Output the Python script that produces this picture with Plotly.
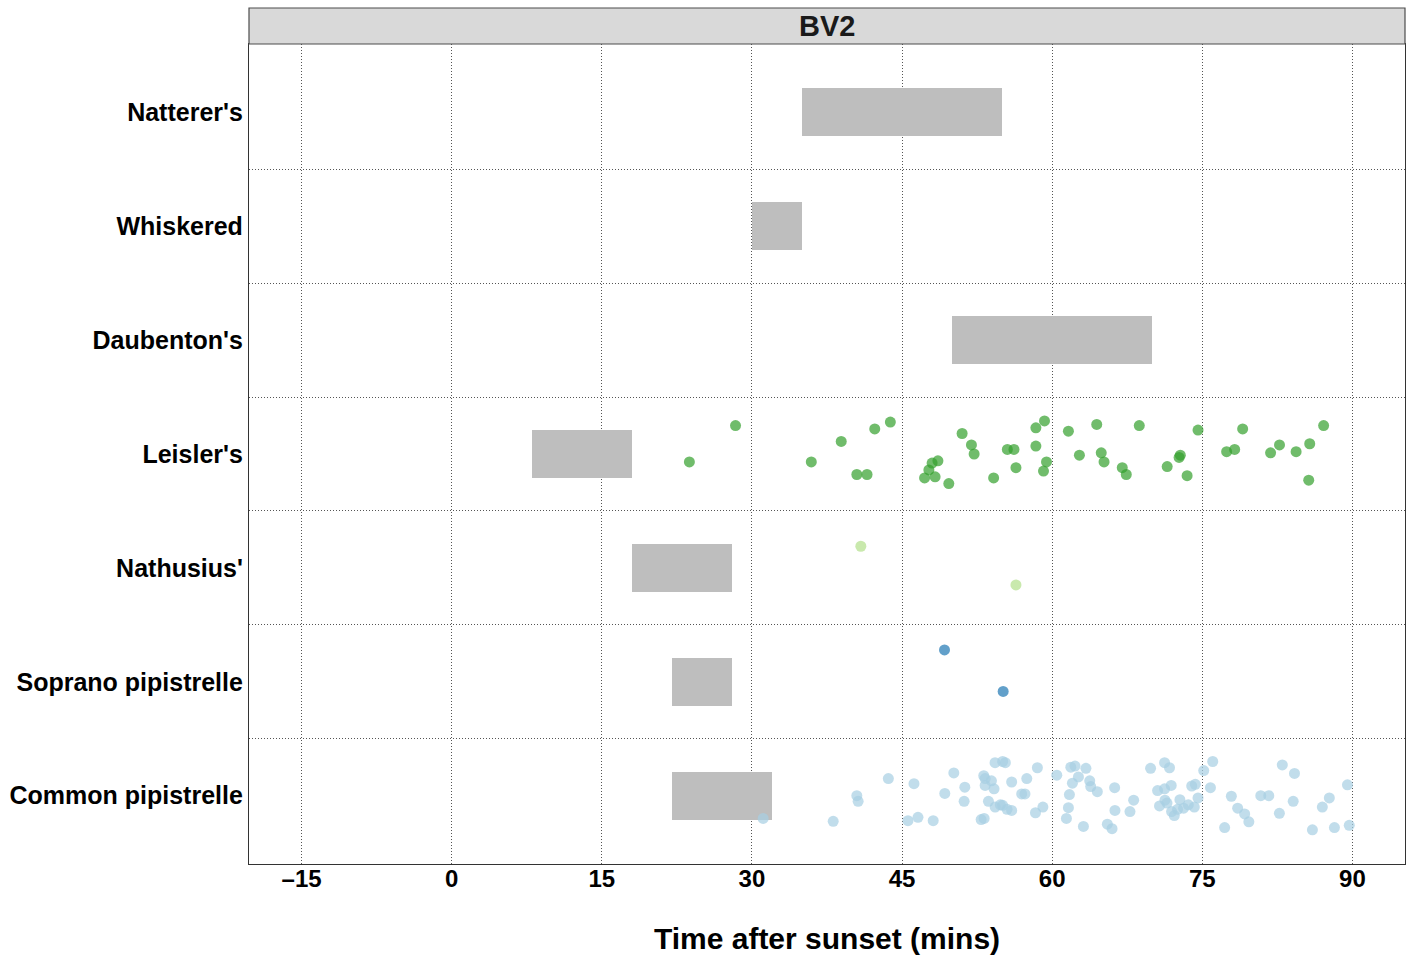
import plotly.graph_objects as go

# Categories (bottom to top)
species = ["Common pipistrelle", "Soprano pipistrelle", "Nathusius'", "Leisler's",
           "Daubenton's", "Whiskered", "Natterer's"]
# Emergence windows (mins after sunset)
win_start = [22, 22, 18, 8, 50, 30, 35]
win_end = [32, 28, 28, 18, 70, 35, 55]

x_ticks = [-15, 0, 15, 30, 45, 60, 75, 90]

# Observed passes (time, vertical jitter)
leis_t = [23.75, 28.36, 35.93, 38.92, 42.27, 43.83, 40.48, 41.5, 51.0, 51.93, 52.2, 48.58,
          48.0, 47.68, 47.25, 48.3, 49.67, 54.15, 55.52, 56.18, 56.38, 58.37, 58.37,
          59.23, 59.43, 59.13, 61.62, 64.45, 68.7, 62.72, 64.9, 65.18, 67.0, 67.4, 71.49,
          72.8, 72.68, 73.48, 74.57, 77.43, 78.23, 79.03, 81.82, 82.71, 84.37, 85.73,
          85.63, 87.12]
leis_j = [-0.07, 0.25, -0.07, 0.11, 0.22, 0.28, -0.18, -0.18, 0.18, 0.08, 0.0, -0.06,
          -0.08, -0.14, -0.21, -0.2, -0.26, -0.21, 0.04, 0.04, -0.12, 0.23, 0.07,
          0.29, -0.07, -0.15, 0.2, 0.26, 0.25, -0.01, 0.01, -0.07, -0.12, -0.18, -0.11,
          -0.01, -0.03, -0.19, 0.21, 0.02, 0.04, 0.22, 0.01, 0.08, 0.02, 0.09,
          -0.23, 0.25]

nath_t = [40.88, 56.38]
nath_j = [0.19, -0.15]

sopr_t = [49.24, 55.1]
sopr_j = [0.28, -0.085]

comm_t = [31.12, 38.12, 40.48, 40.61, 43.63, 45.59, 46.59, 46.19, 48.11, 49.27, 50.17,
          51.27, 51.2, 52.9, 53.2, 53.16, 53.3, 53.93, 53.3, 54.19, 54.29, 55.05, 55.32,
          53.63, 54.3, 54.82, 55.05, 55.49, 55.95, 55.95, 56.95, 57.28, 57.46, 58.52,
          58.33, 59.07, 60.46, 61.86, 62.28, 62.02, 61.72, 61.62, 61.42,
          63.37, 62.62, 63.75, 63.85, 64.51, 63.12, 65.51, 65.98, 66.24, 66.27, 67.77,
          68.14, 69.83, 71.23, 71.72, 70.53, 71.23, 71.89, 70.72, 71.27, 71.47, 71.93,
          72.2, 72.76, 72.53, 73.13, 73.6, 74.2, 73.94, 74.3, 74.57, 75.14, 76.04,
          75.81, 77.23, 77.9, 78.53, 79.23, 79.65, 80.84, 81.64, 82.7, 82.99, 84.21,
          84.08, 86.0, 86.99, 87.69, 88.2, 89.5, 89.68]
comm_j = [-0.2, -0.225, 0.0, -0.05, 0.15, -0.22, -0.19, 0.105, -0.22, 0.02, 0.2,
          0.075, -0.05, -0.21, -0.2, 0.175, 0.15, 0.13, 0.09, 0.06, 0.29, 0.3, 0.29,
          -0.05, -0.1, -0.08, -0.085, -0.12, -0.13, 0.12, 0.015, 0.015, 0.15, 0.245,
          -0.15, -0.1, 0.18, 0.25, 0.26, 0.11, 0.01, -0.105, -0.2,
          0.24, 0.165, 0.13, 0.08, 0.035, -0.27, -0.25, -0.29, 0.07, -0.13, -0.14,
          -0.04, 0.24, 0.29, 0.245, 0.045, 0.06, 0.09, -0.09, -0.04, -0.065, -0.14,
          -0.175, -0.035, -0.12, -0.11, -0.08, -0.1, 0.085, 0.1, -0.02, 0.22, 0.3,
          0.07, -0.28, -0.005, -0.11, -0.16, -0.23, 0.0, 0.0, -0.155, 0.27, 0.195,
          -0.05, -0.3, -0.1, -0.02, -0.28, 0.095, -0.26]

panel_title = "BV2"
x_title = "Time after sunset (mins)"

FONT = "Liberation Sans, Arial, sans-serif"
GRID_DASH = "1px,2px"
GRID_COLOR = "#555555"

fig = go.Figure()

ypos = list(range(1, len(species) + 1))
fig.add_trace(go.Bar(
    y=ypos, x=[e - s for s, e in zip(win_start, win_end)], base=win_start,
    orientation="h", width=0.42, marker=dict(color="#bebebe", line=dict(width=0)),
    showlegend=False, hoverinfo="skip"))

def add_pts(times, jit, row, color):
    fig.add_trace(go.Scatter(
        x=times, y=[ypos[row] + j for j in jit], mode="markers",
        marker=dict(size=11, color=color, opacity=0.7, line=dict(width=0)),
        showlegend=False))

add_pts(comm_t, comm_j, 0, "#a6cee3")
add_pts(sopr_t, sopr_j, 1, "#1f78b4")
add_pts(nath_t, nath_j, 2, "#b2df8a")
add_pts(leis_t, leis_j, 3, "#33a02c")

strip_h = 36 / 820
fig.add_shape(type="rect", xref="paper", yref="paper", x0=0, x1=1, y0=1, y1=1 + strip_h,
              fillcolor="#d9d9d9", line=dict(color="#4d4d4d", width=1.2), layer="above")
fig.add_annotation(text=panel_title, xref="paper", yref="paper", x=0.5, y=1 + strip_h / 2,
                   showarrow=False, font=dict(family=FONT, size=29, color="#1a1a1a", weight="bold"),
                   yanchor="middle")

fig.update_layout(
    width=1416, height=960,
    margin=dict(l=248, r=10, t=44, b=96),
    plot_bgcolor="white", paper_bgcolor="white",
    bargap=0,
    xaxis=dict(range=[-20.25, 95.25], tickvals=x_ticks,
               ticktext=[("\u2013" + str(-v)) if v < 0 else str(v) for v in x_ticks],
               showgrid=True, gridcolor=GRID_COLOR, griddash=GRID_DASH, gridwidth=1,
               zeroline=False, showline=True, linecolor="#333333", linewidth=1.2, mirror=True,
               ticks="", tickfont=dict(family=FONT, size=24, color="black", weight="bold"),
               title=dict(text=x_title, font=dict(family=FONT, size=30, color="black", weight="bold"),
                          standoff=37),
               ticklabelstandoff=-7),
    yaxis=dict(range=[0.4, 7.6], tickvals=ypos, ticktext=species,
               showgrid=False, zeroline=False, showline=True, linecolor="#333333",
               linewidth=1.2, mirror=True, ticks="",
               tickfont=dict(family=FONT, size=25, color="black", weight="bold"),
               minor=dict(tickvals=[1.5, 2.5, 3.5, 4.5, 5.5, 6.5], showgrid=True,
                          gridcolor=GRID_COLOR, griddash=GRID_DASH, gridwidth=1, ticks=""),
               ticklabelstandoff=0),
)

fig.write_html("out.html")
